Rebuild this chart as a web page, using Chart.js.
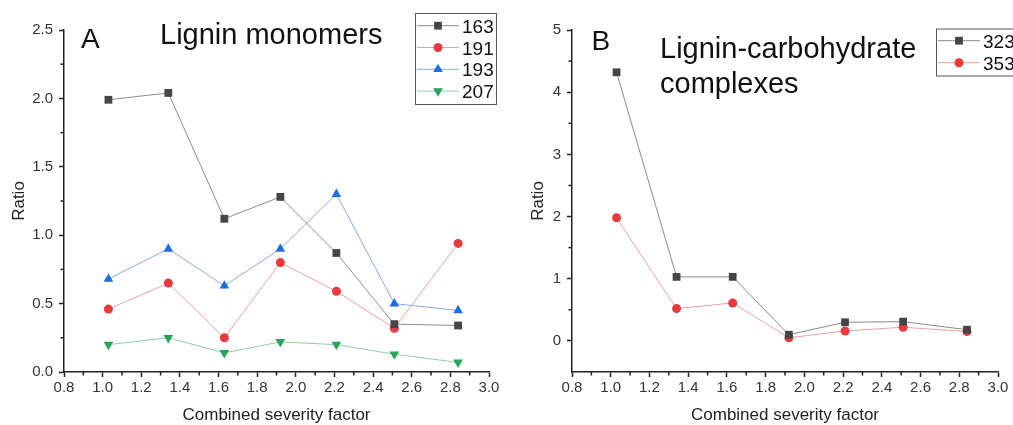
<!DOCTYPE html>
<html>
<head>
<meta charset="utf-8">
<script src="https://cdn.jsdelivr.net/npm/chart.js@4"></script>
<style>
  html, body { margin: 0; padding: 0; background: #fff; }
  .panel { position: absolute; top: 0; width: 506px; height: 425px; }
</style>
</head>
<body>
<div class="panel" style="left:0"><canvas id="chartA" width="506" height="425"></canvas></div>
<div class="panel" style="left:507px"><canvas id="chartB" width="506" height="425"></canvas></div>
<script>
// combined severity factor (x) for both panels
const severity = [1.03, 1.34, 1.63, 1.92, 2.21, 2.51, 2.84];

// panel A - lignin monomers
const m163 = [1.99, 2.04, 1.12, 1.28, 0.87, 0.35, 0.34];
const m191 = [0.46, 0.65, 0.25, 0.80, 0.59, 0.32, 0.94];
const m193 = [0.68, 0.90, 0.63, 0.90, 1.30, 0.50, 0.45];
const m207 = [0.20, 0.25, 0.14, 0.22, 0.20, 0.13, 0.07];

// panel B - lignin-carbohydrate complexes
const lcc323 = [4.32, 1.03, 1.03, 0.10, 0.30, 0.31, 0.18];
const lcc353 = [1.98, 0.52, 0.61, 0.05, 0.16, 0.22, 0.15];

// tick labels
const xTicks = [0.8, 1.0, 1.2, 1.4, 1.6, 1.8, 2.0, 2.2, 2.4, 2.6, 2.8, 3.0];
const yTicksA = [0, 0.5, 1.0, 1.5, 2.0, 2.5];
const yTicksB = [0, 1, 2, 3, 4, 5];

const FONT = '"Liberation Sans", Arial, sans-serif';

const pts = vals => vals.map((v, i) => ({ x: severity[i], y: v }));

function series(label, vals, marker, line, style, radius, rotation) {
    return {
        label: label,
        data: pts(vals),
        borderColor: line,
        borderWidth: 1,
        backgroundColor: marker,
        pointBackgroundColor: marker,
        pointBorderColor: marker,
        pointBorderWidth: 0,
        pointStyle: style,
        pointRadius: radius,
        pointRotation: rotation || 0,
        tension: 0
    };
}

// minor tick marks halfway between the major ones
const minorTicks = {
    id: 'minorTicks',
    afterDraw(chart) {
        const ctx = chart.ctx;
        ctx.save();
        ctx.strokeStyle = '#222';
        ctx.lineWidth = 1.5;
        ['x', 'y'].forEach(id => {
            const s = chart.scales[id];
            const t = s.ticks.map(k => k.value);
            for (let i = 0; i < t.length - 1; i++) {
                const mid = (t[i] + t[i + 1]) / 2;
                const p = s.getPixelForValue(mid);
                ctx.beginPath();
                if (id === 'x') {
                    ctx.moveTo(p, s.top);
                    ctx.lineTo(p, s.top + 3.5);
                } else {
                    ctx.moveTo(s.right, p);
                    ctx.lineTo(s.right - 3.5, p);
                }
                ctx.stroke();
            }
        });
        ctx.restore();
    }
};

// boxed legend in Origin style plus the panel captions
const decorations = {
    id: 'decorations',
    afterDraw(chart, args, opts) {
        const ctx = chart.ctx;
        ctx.save();
        const lg = opts.legend;
        ctx.strokeStyle = '#555';
        ctx.lineWidth = 1;
        ctx.strokeRect(lg.x + 0.5, lg.y + 0.5, lg.w, lg.h);
        chart.data.datasets.forEach((ds, i) => {
            const cy = lg.rowTop + i * lg.rowGap;
            ctx.strokeStyle = ds.borderColor;
            ctx.lineWidth = 1;
            ctx.beginPath();
            ctx.moveTo(lg.x + 2, cy);
            ctx.lineTo(lg.x + 44, cy);
            ctx.stroke();
            ctx.fillStyle = ds.pointBackgroundColor;
            ctx.strokeStyle = ds.pointBackgroundColor;
            Chart.helpers.drawPoint(ctx, {
                pointStyle: ds.pointStyle,
                radius: ds.pointRadius,
                rotation: ds.pointRotation,
                borderWidth: 0
            }, lg.x + 23, cy);
            ctx.fillStyle = '#111';
            ctx.font = '19px ' + FONT;
            ctx.textBaseline = 'alphabetic';
            ctx.fillText(ds.label, lg.x + 47, cy + 7);
        });
        ctx.fillStyle = '#111';
        ctx.textBaseline = 'alphabetic';
        opts.texts.forEach(t => {
            ctx.font = t.size + 'px ' + FONT;
            ctx.fillText(t.text, t.x, t.y);
        });
        ctx.restore();
    }
};

function makeOptions(yTicks, yMin, yMax, yWidth, rightPad, titlePad, deco) {
    return {
        responsive: false,
        animation: false,
        layout: { padding: { top: 30, right: rightPad, left: 0, bottom: 0 } },
        plugins: {
            legend: { display: false },
            tooltip: { enabled: false },
            decorations: deco
        },
        scales: {
            x: {
                type: 'linear',
                min: 0.8,
                max: 3.0,
                afterBuildTicks: s => { s.ticks = xTicks.map(v => ({ value: v })); },
                afterFit: s => { s.height = 53; },
                border: { color: '#222', width: 1.5 },
                grid: { drawOnChartArea: false, tickLength: 5, tickColor: '#222', tickWidth: 1.5 },
                ticks: {
                    color: '#333',
                    padding: 2,
                    maxRotation: 0,
                    autoSkip: false,
                    font: { family: FONT, size: 15 },
                    callback: v => v.toFixed(1)
                },
                title: {
                    display: true,
                    text: 'Combined severity factor',
                    color: '#222',
                    font: { family: FONT, size: 17, lineHeight: 1.1 },
                    padding: { top: 0, bottom: 0 }
                }
            },
            y: {
                min: yMin,
                max: yMax,
                afterBuildTicks: s => { s.ticks = yTicks.map(v => ({ value: v })); },
                afterFit: s => { s.width = yWidth; },
                border: { color: '#222', width: 1.5 },
                grid: { drawOnChartArea: false, tickLength: 5, tickColor: '#222', tickWidth: 1.5 },
                ticks: {
                    color: '#333',
                    padding: 6,
                    font: { family: FONT, size: 15 },
                    callback: v => (yMax < 3 ? v.toFixed(1) : String(v))
                },
                title: {
                    display: true,
                    text: 'Ratio',
                    color: '#222',
                    font: { family: FONT, size: 17, lineHeight: 1.2 },
                    padding: { top: titlePad, bottom: 0 }
                }
            }
        }
    };
}

const configA = {
    type: 'line',
    data: {
        datasets: [
            series('163', m163, '#454545', '#8c8c8c', 'rect', 5.5),
            series('191', m191, '#ea3a3e', '#eaa0a0', 'circle', 4.5),
            series('193', m193, '#1d6fdf', '#88a8e6', 'triangle', 5.6),
            series('207', m207, '#28a35c', '#94cba8', 'triangle', 5.6, 180)
        ]
    },
    options: makeOptions(yTicksA, 0, 2.5, 64, 17, 9, {
        legend: { x: 415, y: 13, w: 81, h: 91, rowTop: 25.7, rowGap: 21.8 },
        texts: [
            { text: 'A', x: 81, y: 48, size: 28 },
            { text: 'Lignin monomers', x: 160, y: 43.5, size: 29 }
        ]
    }),
    plugins: [minorTicks, decorations]
};

const configB = {
    type: 'line',
    data: {
        datasets: [
            series('323', lcc323, '#454545', '#8c8c8c', 'rect', 5.5),
            series('353', lcc353, '#ea3a3e', '#eaa0a0', 'circle', 4.5)
        ]
    },
    options: makeOptions(yTicksB, -0.5, 5, 65, 15, 21, {
        legend: { x: 429, y: 28.5, w: 81, h: 47, rowTop: 40.7, rowGap: 22 },
        texts: [
            { text: 'B', x: 84.5, y: 50, size: 28 },
            { text: 'Lignin-carbohydrate', x: 153, y: 58.3, size: 29 },
            { text: 'complexes', x: 153, y: 93.3, size: 29 }
        ]
    }),
    plugins: [minorTicks, decorations]
};

const chartA = new Chart(document.getElementById('chartA').getContext('2d'), configA);
const chartB = new Chart(document.getElementById('chartB').getContext('2d'), configB);
</script>
</body>
</html>
